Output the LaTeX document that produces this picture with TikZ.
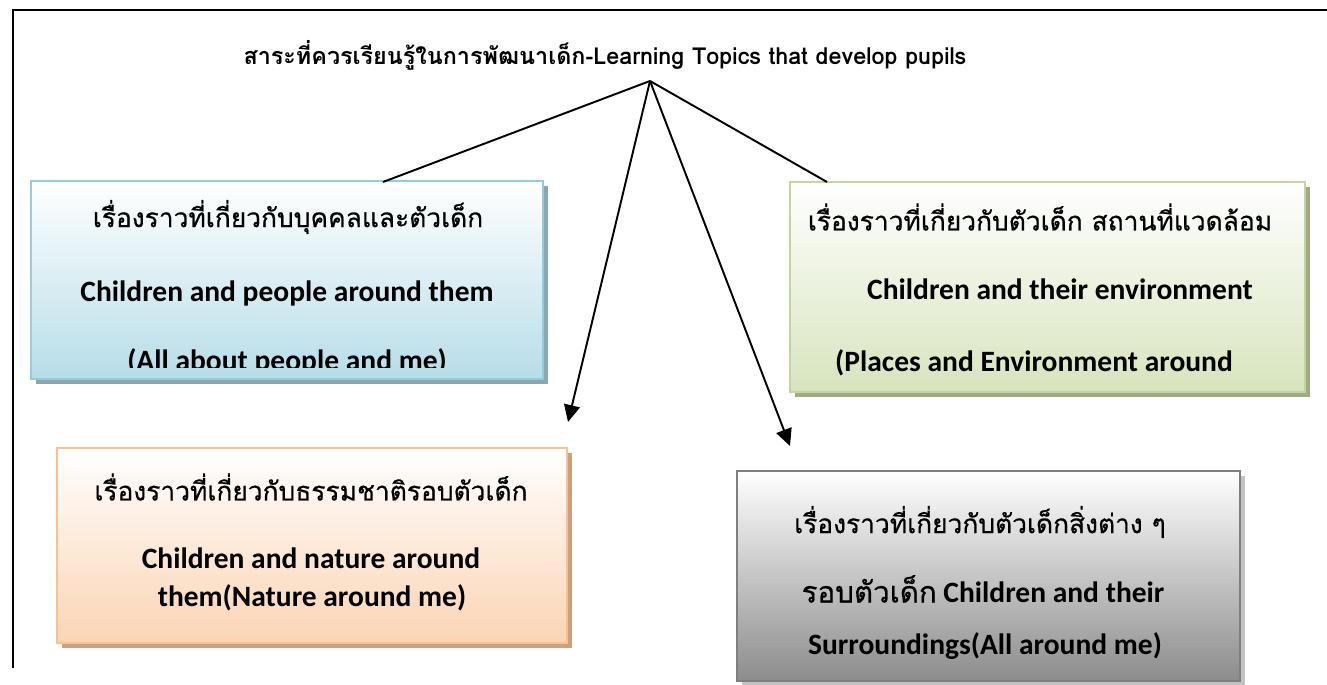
\documentclass[tikz,border=0pt]{standalone}
\usepackage{fontspec}
\setmainfont{Carlito}
\newfontfamily\thaifont[Script=Thai]{Loma}
\newfontfamily\thaiboxfont[Script=Thai, FakeBold=0.6]{Loma}
\usetikzlibrary{arrows.meta,positioning,shadows}

\definecolor{peopleline}{RGB}{147,205,221}
\definecolor{peoplefill}{RGB}{183,221,232}
\definecolor{peopleshadow}{RGB}{140,165,175}
\definecolor{placeline}{RGB}{195,214,155}
\definecolor{placefill}{RGB}{215,228,189}
\definecolor{placeshadow}{RGB}{160,170,135}
\definecolor{natureline}{RGB}{250,192,144}
\definecolor{naturefill}{RGB}{251,212,180}
\definecolor{natureshadow}{RGB}{200,160,130}
\definecolor{aroundline}{RGB}{127,127,127}
\definecolor{aroundfill}{RGB}{140,140,140}
\definecolor{aroundshadow}{RGB}{195,195,195}

\tikzset{
  topicbox/.style={line width=1.6pt, shading=axis, top color=white, inner sep=0pt},
  shadowof/.style={drop shadow={fill=#1, opacity=1, shadow xshift=0.1cm, shadow yshift=-0.1cm}},
  thaitext/.style={font=\thaiboxfont\fontsize{15}{17}\selectfont},
  engtext/.style={font=\bfseries\fontsize{16.8}{19}\selectfont},
  link/.style={line width=1.1pt},
  arrowlink/.style={link, -{Triangle[length=0.34cm, width=0.32cm]}}
}

\begin{document}
\begin{tikzpicture}[x=0.02cm, y=-0.02cm]
\useasboundingbox (0,0) rectangle (1327,685);

% frame
\draw[line width=1.3pt] (13,668) -- (13,10) -- (1327,10);

% title
\node[font=\thaifont\bfseries\fontsize{13.3}{15}\selectfont] (title) at (605,55) {สาระที่ควรเรียนรู้ในการพัฒนาเด็ก-Learning Topics that develop pupils};
\coordinate (apex) at (650,81);

% topic boxes
\node[topicbox, draw=peopleline, bottom color=peoplefill, shadowof=peopleshadow,
      minimum width=10.24cm, minimum height=3.96cm] (people) at (287,280) {};
\node[topicbox, draw=placeline, bottom color=placefill, shadowof=placeshadow,
      minimum width=10.3cm, minimum height=4.2cm] (place) at (1047.5,287) {};
\node[topicbox, draw=natureline, bottom color=naturefill, shadowof=natureshadow,
      minimum width=10.2cm, minimum height=3.9cm] (nature) at (312,545.5) {};
\node[topicbox, draw=aroundline, bottom color=aroundfill, shadowof=aroundshadow,
      minimum width=10.06cm, minimum height=4.2cm] (around) at (988.5,576) {};

% texts of the boxes
\node[thaitext] (peopleth) at (288,217) {เรื่องราวที่เกี่ยวกับบุคคลและตัวเด็ก};
\node[engtext] (peopleen) at (287,293) {Children and people around them};
\begin{scope}
  \clip (31,182) rectangle (543,368);
  \node[engtext] (peopleall) at (287,362) {(All about people and me)};
\end{scope}

\node[thaitext] (placeth) at (1040,217) {เรื่องราวที่เกี่ยวกับตัวเด็ก สถานที่แวดล้อม};
\node[engtext] (placeen) at (1060,289) {Children and their environment};
\node[engtext] (placeall) at (1034,363) {(Places and Environment around};

\node[thaitext] (natureth) at (311,487) {เรื่องราวที่เกี่ยวกับธรรมชาติรอบตัวเด็ก};
\node[engtext] (natureen) at (311,558) {Children and nature around};
\node[engtext] (natureall) at (312,598) {them(Nature around me)};

\node[thaitext] (aroundth) at (980,522) {เรื่องราวที่เกี่ยวกับตัวเด็กสิ่งต่าง ๆ};
\node[engtext] (arounden) at (983,589) {{\thaiboxfont\mdseries รอบตัวเด็ก} Children and their};
\node[engtext] (aroundall) at (985,646) {Surroundings(All around me)};

% connectors
\coordinate (peoplein) at (383,182);
\coordinate (placein) at (827,182);
\coordinate (naturetip) at (568,422);
\coordinate (aroundtip) at (790,446);
\draw[link] (apex) -- (peoplein);
\draw[link] (apex) -- (placein);
\draw[arrowlink] (apex) -- (naturetip);
\draw[arrowlink] (apex) -- (aroundtip);
\end{tikzpicture}
\end{document}
